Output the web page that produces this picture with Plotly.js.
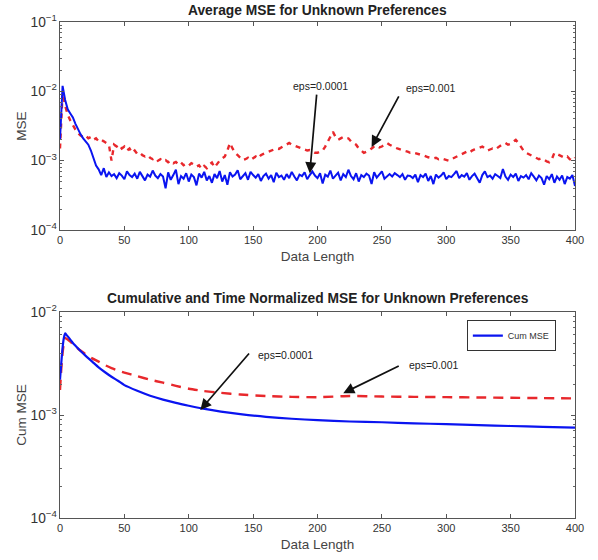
<!DOCTYPE html>
<html><head><meta charset="utf-8">
<script src="https://cdn.plot.ly/plotly-3.0.1.min.js"></script>
<style>html,body{margin:0;padding:0;background:#fff}#chart{width:598px;height:560px}</style>
</head><body><div id="chart"></div>
<script>
// values are stored in units of 1e-4
const UNIT = 1e-4;
const avgX = Array.from({length: 201}, (_, i) => i * 2);
const avgBlue = [
 20,120,75,55,48,42,34,28,24,21,19,17,14,11,8.5,7.5,6.2,7.8,5.8,6.8,
 6.0,6.4,5.6,6.6,6.1,5.4,7.0,6.2,5.8,6.5,5.5,6.9,6.0,5.2,6.3,5.9,7.2,6.1,5.6,6.4,
 5.9,4.0,6.8,5.3,6.2,7.4,4.6,6.0,5.5,6.6,5.0,6.3,5.8,4.4,6.5,5.7,6.9,5.2,6.0,4.8,
 6.4,5.6,7.1,5.0,6.2,4.5,6.8,5.9,6.3,7.3,5.4,6.0,6.6,5.3,6.9,6.2,5.7,6.4,5.1,6.0,
 6.5,5.5,6.2,4.9,6.7,5.8,6.1,5.3,6.4,5.6,6.9,5.9,5.2,6.3,6.0,6.8,5.4,6.2,7.0,6.1,
 5.6,6.6,4.7,6.3,5.9,7.2,5.5,6.1,6.7,5.2,6.4,5.8,7.4,6.0,5.4,6.6,5.0,6.2,5.8,6.5,
 6.1,4.6,6.8,5.7,6.3,7.0,5.5,6.0,6.4,5.9,6.6,6.2,5.8,6.4,5.3,6.1,6.0,5.6,6.3,4.9,
 6.2,5.8,6.5,5.1,6.0,4.6,6.3,5.7,6.1,6.8,5.4,6.0,5.8,6.4,7.1,5.6,6.2,5.9,6.6,5.3,
 6.0,6.5,5.7,4.8,6.2,7.0,5.8,6.1,5.5,6.4,6.0,5.6,7.6,5.9,5.3,6.3,5.8,6.5,5.1,6.0,
 5.7,6.2,5.4,6.6,5.9,5.2,6.1,5.6,4.5,6.0,5.4,6.4,4.8,5.9,5.3,6.1,4.6,5.8,5.5,6.2,
 4.3];
const avgRed = [
 15,95,62,46,38,32,28,25,23,22,23,21,22,20,21,19,20,19,18,17,
 10,17,16,17,15,16,14,15,13,14,12.5,13,12,11.5,12,11,10.5,11,10,10.5,
 9.8,10.2,9.5,10,9.2,9.6,8.8,9.4,8.6,9.0,8.5,9.2,8.8,8.2,8.6,7.6,8.4,7.8,8.8,9.4,
 8.0,9.0,10,10.8,11.5,14,18,15,13,12,11,10.2,10.5,11,10.2,11,11.5,10.8,12,12.5,
 13,13.5,14,14.5,15,14.8,15.5,16,17,18,17,16.5,16,15.5,15,14.5,14,14.2,13.5,13,
 13,13.5,14,16,19,23,26,22,20,21,22,21,21,19,18,17,15,14,13,13.5,
 14,15,16,16.5,15.5,16,17,18,17,16,15.5,15,14.5,14,13.8,13.5,13,13.2,12.8,12.5,
 12.2,12,11.5,11.2,11,10.8,11,10.5,10.8,10.6,10.2,10,10.5,11,11.5,12,12.5,13,13.5,13,
 14,14.5,15,15.5,16,15,14,14.5,15,14.5,15.5,16.5,17.5,18,17,17.5,19,20,18,15.5,
 14,13,12.5,12,11.5,11,10.5,10.8,10.2,9.8,9.5,10.5,13,12.5,12,11.5,11,11.5,10.5,10,
 11];
const cumX = [0,1,2,3,4,5,6,8,10,12,15,18,21,25,30,35,40,45,50,60,70,80,90,100,110,125,140,160,180,200,225,250,275,300,325,350,375,400];
const cumBlue = [22,32,45,56,62,60,58,54,50,47,43,39.5,36.5,33,29,26,23.5,21.5,19.5,17.2,15.4,14.1,13.1,12.3,11.6,10.8,10.2,9.6,9.2,8.9,8.65,8.5,8.3,8.15,7.98,7.82,7.68,7.55];
const cumRed = [17.5,28,40,50,56,55,54,51.5,49,46.5,43,40.5,38,35.5,33,30.5,28.5,27,25.8,23.8,22,20.6,19.2,18,17.2,16.4,15.8,15.3,15,14.9,15.3,15.1,15,14.9,14.8,14.7,14.6,14.5];

const xTicks = [0,50,100,150,200,250,300,350,400];
const titles = ['Average MSE for Unknown Preferences','Cumulative and Time Normalized MSE for Unknown Preferences'];
const legendName = 'Cum MSE';
const epsLabels = ['eps=0.0001','eps=0.001'];

const sc = a => a.map(v => v * UNIT);
const BLUE = '#0a14f0', RED = '#e8282c';

const traces = [
  {x: avgX, y: sc(avgRed), xaxis:'x', yaxis:'y', mode:'lines', line:{color:RED, width:2.4, dash:'5px,5px'}, showlegend:false},
  {x: avgX, y: sc(avgBlue), xaxis:'x', yaxis:'y', mode:'lines', line:{color:BLUE, width:2}, showlegend:false},
  {x: cumX, y: sc(cumRed), xaxis:'x2', yaxis:'y2', mode:'lines', line:{color:RED, width:2.4, dash:'10px,7px', shape:'spline', smoothing:0.6}, showlegend:false},
  {x: cumX, y: sc(cumBlue), xaxis:'x2', yaxis:'y2', mode:'lines', name: legendName, line:{color:BLUE, width:2.2, shape:'spline', smoothing:0.6}, showlegend:true}
];

const axCommon = {showline:true, linecolor:'#555', linewidth:1, mirror:'ticks', ticks:'inside', ticklen:4, tickcolor:'#555', showgrid:false, zeroline:false, tickfont:{size:11, color:'#333'}};
const xAx = (anchor) => Object.assign({}, axCommon, {range:[0,400], tickmode:'array', tickvals:xTicks, domain:[0,1], anchor:anchor,
  title:{text:'Data Length', font:{size:13.5, color:'#444'}, standoff:6}});
const yAx = (range, dom, anchor, title) => Object.assign({}, axCommon, {type:'log', range:range, tickmode:'linear', tick0:0, dtick:1, exponentformat:'power', domain:dom, anchor:anchor,
  minor:{ticks:'inside', ticklen:2, tickcolor:'#666', showgrid:false},
  title:{text:title, font:{size:13.5, color:'#444'}, standoff:0}});

const L10 = Math.log10;
const arrow = (xr, yr, x, y, ax, ay) => ({xref:xr, yref:yr, x:x, y:L10(y), ax:ax, ay:ay, text:'', showarrow:true, arrowhead:2, arrowsize:1.3, arrowwidth:1.7, arrowcolor:'#111'});
const label = (xr, yr, x, y, t) => ({xref:xr, yref:yr, x:x, y:y, text:t, showarrow:false, font:{size:10.5, color:'#222'}});

const layout = {
  width:598, height:560, margin:{l:60, r:23, t:22, b:42},
  paper_bgcolor:'#fff', plot_bgcolor:'#fff',
  font:{family:'"Liberation Sans", Arial, sans-serif', color:'#333'},
  xaxis: xAx('y'),
  yaxis: yAx([-4,-1], [0.5806,1], 'x', 'MSE'),
  xaxis2: xAx('y2'),
  yaxis2: yAx([-4,-2], [0,0.4153], 'x2', 'Cum MSE'),
  showlegend:true,
  legend:{x:0.79, y:0.399, xanchor:'left', yanchor:'top', bordercolor:'#333', borderwidth:1, bgcolor:'#fff', font:{size:9, color:'#333'}, itemwidth:30, tracegroupgap:0},
  annotations:[
    {xref:'paper', yref:'paper', x:0.5, y:1.024, text:'<b>'+titles[0]+'</b>', showarrow:false, font:{size:13.8, color:'#222'}, yanchor:'middle'},
    {xref:'paper', yref:'paper', x:0.5, y:0.4435, text:'<b>'+titles[1]+'</b>', showarrow:false, font:{size:13.8, color:'#222'}, yanchor:'middle'},
    arrow('x','y',194,6.6e-4,7,-80),
    arrow('x','y',242,1.58e-3,28,-52),
    arrow('x2','y2',109,1.12e-3,50,-58),
    arrow('x2','y2',220,1.63e-3,57,-28),
    label('x','y',202,-1.923,epsLabels[0]),
    label('x','y',288,-1.952,epsLabels[1]),
    label('x2','y2',175,-2.417,epsLabels[0]),
    label('x2','y2',290,-2.515,epsLabels[1])
  ]
};
Plotly.newPlot('chart', traces, layout, {staticPlot:true, displayModeBar:false});
</script></body></html>
